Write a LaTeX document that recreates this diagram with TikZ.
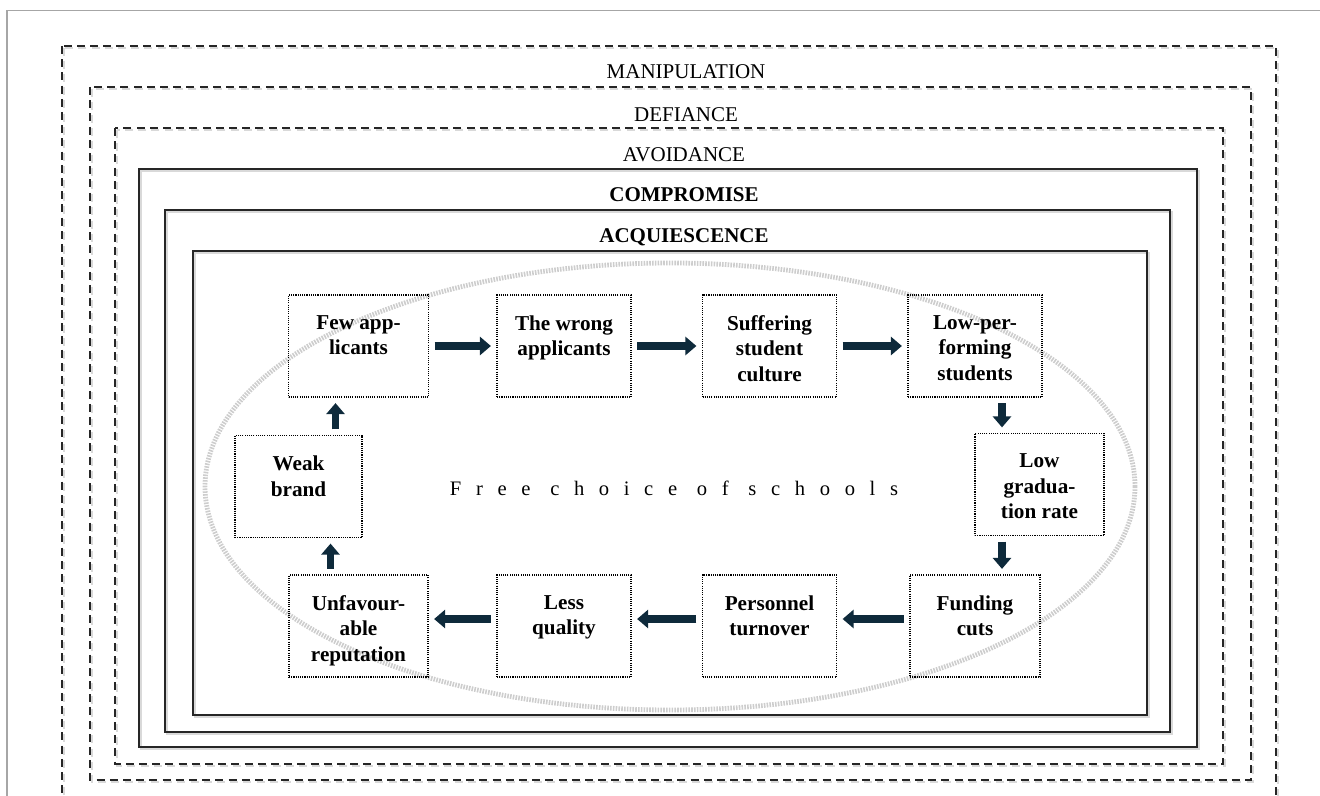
\documentclass[tikz,border=0pt]{standalone}
\usepackage{fontspec}
\setmainfont{Liberation Serif}
\newfontfamily\spacedfont[LetterSpace=71]{Liberation Serif}
\usetikzlibrary{positioning, arrows.meta}

\definecolor{arrowblue}{HTML}{0E2A3B}
\definecolor{ringgray}{HTML}{CDCDCD}

\tikzset{
  tier/.style={line width=1pt, draw=black!85},
  tiershadow/.style={line width=1pt, draw=black!15},
  tierdash/.style={dash pattern=on 4pt off 2.6pt},
  tiername/.style={inner sep=0pt, font=\fontsize{10.5}{12}\selectfont},
  tierbold/.style={tiername, font=\fontsize{10.5}{12}\selectfont\bfseries},
  cell/.style={draw, line width=0.6pt, dash pattern=on 0.55pt off 0.55pt,
    minimum width=67pt, minimum height=51pt},
  celltext/.style={anchor=north, inner sep=0pt, yshift=-10.4pt, align=center,
    font=\fontsize{10.6}{12.7}\selectfont\bfseries},
  flow/.style={draw=arrowblue, line width=3.7pt, -{Triangle[width=9pt, length=5.5pt]},
    shorten <=2.75pt, shorten >=2.75pt},
}

\begin{document}
\begin{tikzpicture}[x=0.5pt, y=-0.5pt, node distance=102.75pt, on grid]
    \useasboundingbox (0,0) rectangle (1320,796);
    \clip (0,0) rectangle (1320,796);
    \draw[black!35, line width=0.6pt] (7,830) -- (7,10.5) -- (1330,10.5);

    % nested response frames
    \foreach \xa/\ya/\xb/\yb/\kind in {62/46/1276/830/tierdash, 90/87/1251/780/tierdash,
        115/128/1223/764/tierdash, 139/169/1197/747/solid, 165/210/1170/732/solid,
        193/251/1147/715/solid} {
      \draw[tiershadow, \kind] (\xa+1.6,\ya+1.6) rectangle (\xb+1.6,\yb+1.6);
      \draw[tier, \kind] (\xa,\ya) rectangle (\xb,\yb);
    }

    \node[tiername] (manipulation) at (686,72) {MANIPULATION};
    \node[tiername] (defiance) at (686,114.5) {DEFIANCE};
    \node[tiername] (avoidance) at (684,155) {AVOIDANCE};
    \node[tierbold] (compromise) at (684,195) {COMPROMISE};
    \node[tierbold] (acquiescence) at (684,237) {ACQUIESCENCE};

    % the market
    \draw[ringgray, line width=2.4pt, dash pattern=on 0.8pt off 0.6pt]
        (670,486.5) ellipse [x radius=465, y radius=223.5];
    \node[font=\spacedfont\fontsize{10.3}{12}\selectfont] (freechoice) at (674,488) {Free choice of schools};

    % the vicious circle
    \node[cell, minimum width=70pt, label={[celltext]north:{Few app-\\licants}}] (few) at (358.5,346) {};
    \node[cell, right=of few, label={[celltext]north:{The wrong\\applicants}}] (wrong) {};
    \node[cell, right=of wrong, label={[celltext]north:{Suffering\\student\\culture}}] (suffering) {};
    \node[cell, right=of suffering, label={[celltext]north:{Low-per-\\forming\\students}}] (lowperf) {};
    \node[cell, minimum width=64.5pt, label={[celltext]north:{Low\\gradua-\\tion rate}}] (lowgrad) at (1039.5,484.5) {};
    \node[cell, minimum width=69.5pt, label={[celltext]north:{Unfavour-\\able\\reputation}}] (unfav) at (358.5,626) {};
    \node[cell, right=of unfav, label={[celltext]north:{Less\\quality}}] (less) {};
    \node[cell, right=of less, label={[celltext]north:{Personnel\\turnover}}] (personnel) {};
    \node[cell, right=of personnel, minimum width=65pt, label={[celltext]north:{Funding\\cuts}}] (funding) {};
    \node[cell, minimum width=63.5pt, label={[celltext]north:{Weak\\brand}}] (weak) at (298.5,486.5) {};

    \draw[flow] (few) -- (wrong);
    \draw[flow] (wrong) -- (suffering);
    \draw[flow] (suffering) -- (lowperf);
    \draw[flow] ([xshift=13.5pt]lowperf.south) -- ([xshift=13.5pt]lowperf.south |- lowgrad.north);
    \draw[flow] ([xshift=13.5pt]funding.north |- lowgrad.south) -- ([xshift=13.5pt]funding.north);
    \draw[flow] ([yshift=3.5pt]funding.west) -- ([yshift=3.5pt]personnel.east);
    \draw[flow] ([yshift=3.5pt]personnel.west) -- ([yshift=3.5pt]less.east);
    \draw[flow] ([yshift=3.5pt]less.west) -- ([yshift=3.5pt]unfav.east);
    \draw[flow] ([xshift=-14pt]unfav.north) -- ([xshift=-14pt]unfav.north |- weak.south);
    \draw[flow] ([xshift=-11.5pt]few.south |- weak.north) -- ([xshift=-11.5pt]few.south);
\end{tikzpicture}
\end{document}
